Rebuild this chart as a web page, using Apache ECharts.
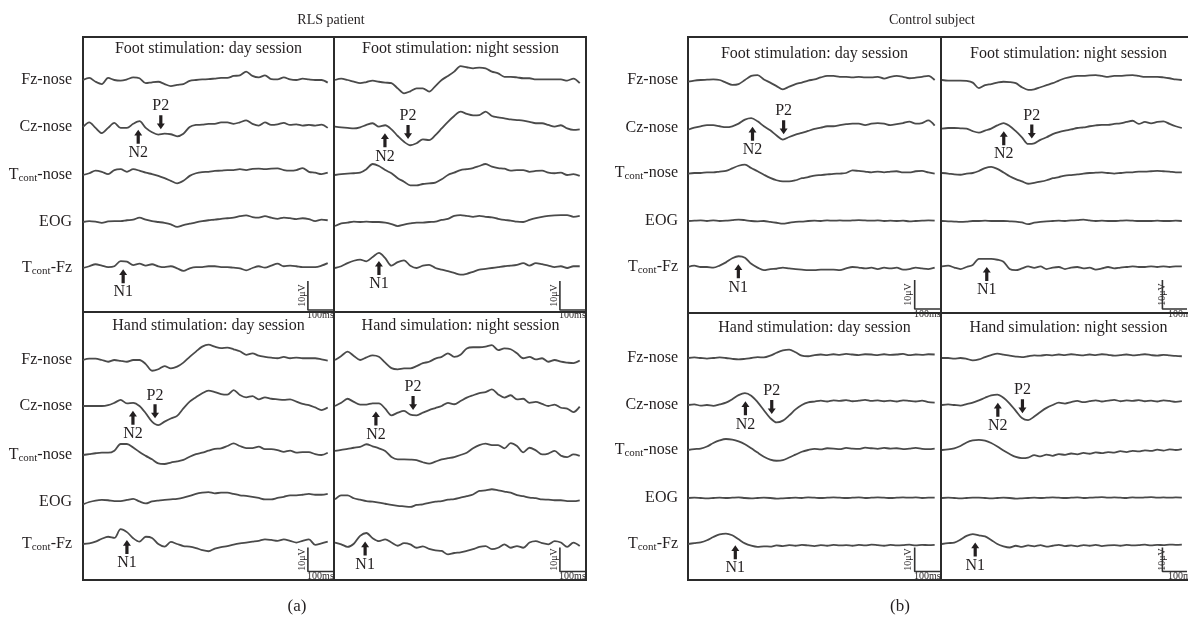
<!DOCTYPE html>
<html><head><meta charset="utf-8">
<script src="https://cdn.jsdelivr.net/npm/echarts@6/dist/echarts.min.js"></script>
<style>html,body{margin:0;padding:0;background:#fff}#c{width:1188px;height:620px}</style>
</head><body><div id="c"></div>
<script>
// ---------------- DATA ----------------
const timesMs = [0,25,50,75,100,125,150,175,200,225,250,275,300,325,350,375,400,425,450,475,500,525,550,575,600,625,650,675,700,725,750,775,800,825,850,875,900,925,950,975];
const channelNames = ['Fz-nose','Cz-nose','Tcont-nose','EOG','Tcont-Fz'];
const figureTitles = ['RLS patient','Control subject'];
const figureCaptions = ['(a)','(b)'];
const panelTitles = ['Foot stimulation: day session','Foot stimulation: night session','Hand stimulation: day session','Hand simulation: night session','Foot stimulation: day session','Foot stimulation: night session','Hand stimulation: day session','Hand simulation: night session'];

// traces in µV (up = positive on screen), rows: Fz-nose, Cz-nose, Tcont-nose, EOG, Tcont-Fz
const rlsFootDay = [
 [0,0.7,-0.6,-1.4,0.7,0,-0.2,0.2,0.9,0.6,-1.1,-0.8,-0.6,-1.4,-2.1,-1.7,-1.4,-0.3,0,0.2,0.3,0.5,0.7,0.7,1.4,1.6,2.9,1.4,0.9,1.6,0.3,0.2,0.9,0.2,0,0.5,0.2,0,0,-0.9],
 [0,1.6,-0.3,-2.1,-0.3,1.4,-0.3,-0.3,1.1,2.0,-0.3,-1.8,-2.6,-2.3,-2.5,-3.2,-2.3,0,0.7,0.8,1.1,1.1,1.6,1.6,1.1,1.6,2.3,1.1,0.5,1.6,0.7,0.9,1.4,0.7,0.9,0.5,0.7,0.5,0.8,-0.3],
 [0,0.6,1.5,1.1,0.3,1.7,2.0,1.1,2.0,1.5,0.8,0.3,-0.3,-1.1,-2.0,-2.9,-2.0,-0.3,0.6,1.0,1.1,1.4,1.5,1.7,1.7,2.0,1.7,2.1,2.2,2.0,2.2,2.3,1.7,1.5,1.7,2.4,1.1,0.8,0.3,0.8],
 [0,0.3,0.1,-0.3,0.2,0.3,0.3,0.6,0.8,1.5,0.8,0.3,0,-0.3,-0.8,-1.7,-1.1,-0.6,-0.1,0.3,0.6,0.8,1.1,1.3,1.5,2.0,2.3,1.7,1.5,2.0,1.5,1.1,1.5,1.3,1.0,1.3,1.0,0.3,0.8,0.6],
 [0,0.6,1.3,0.8,0.3,0.6,2.4,2.2,1.0,1.5,0.8,1.3,0.6,0.3,0.6,-0.1,-1.0,-0.1,0.3,0.3,0.6,0.6,0.3,0.3,0.1,-0.1,-0.8,0,0.6,0.1,0.8,1.5,0.6,0.8,0.6,0.3,0.3,0.3,0.8,1.7]
];
const rlsFootNight = [
 [0,0.5,0,-0.6,-1.1,-0.7,-0.2,-0.6,-0.9,-1.1,-2.9,-4.6,-3.9,-2.9,-2.9,-4.0,-2.1,0,1.4,2.9,4.8,4.4,4.0,4.3,4.0,2.9,2.3,1.1,1.1,0.9,0.6,0.6,0.2,0.2,0.2,0.2,0.2,-0.2,0.5,-1.1],
 [0.1,-0.1,-0.3,-0.5,-0.1,0.7,1.3,0.1,0.6,-0.8,-3.1,-5.1,-6.3,-5.6,-4.3,-4.5,-2.8,-0.5,1.8,3.8,5.3,4.5,4.0,4.1,5.3,3.8,3.3,3.0,2.6,2.4,2.2,1.8,1.3,1.3,0.7,0.1,0.6,-0.5,-1.0,-0.8],
 [0,0.3,0.5,0.6,0.8,2.0,3.8,3.1,1.7,0.6,-1.1,-2.3,-3.6,-3.6,-3.1,-2.9,-2.6,-1.5,0,0.8,1.7,2.0,2.4,3.1,3.8,2.9,2.4,2.2,1.5,1.7,1.7,1.1,1.4,1.5,0.8,0.6,0.8,0,0.3,-0.3],
 [-1.4,-0.5,-0.2,0.1,0,0.1,0,0,-0.2,-0.7,-1.4,-0.9,-0.5,-0.2,-0.2,0,0.1,0.7,1.1,2.1,2.4,2.1,1.8,2.1,1.8,1.6,1.1,0.7,0.5,0.1,0,0.7,1.3,1.8,2.1,2.3,2.4,2.4,1.8,2.1],
 [0,0.6,1.7,2.5,2.9,2.3,3.8,5.2,3.4,0.8,2.0,2.6,0.8,0,0.8,1.1,0,-0.6,-1.1,-1.7,-2.3,-2.0,-1.3,-0.6,-0.3,0,0.3,0.6,0.8,1.1,1.7,0.8,1.7,1.3,0.8,0.3,0.6,0,0.6,0.6]
];
const rlsHandDay = [
 [0,0.5,0.5,0,-0.6,0,-0.3,-0.6,0,0,-1.4,-3.7,-3.2,-2.1,-2.9,-2.3,-0.9,1.1,2.9,4.6,5.3,4.6,4.1,4.3,3.7,3.0,1.8,2.3,1.5,1.1,0.8,0.6,1.1,0.6,0.8,0.6,0.6,0.6,0.2,-0.2],
 [0,0,0,0,0.3,1.1,2.1,0.9,1.1,0,-2.5,-5.4,-6.6,-5.4,-4.3,-3.4,-0.8,1.5,3.0,4.4,5.3,4.8,4.1,3.9,5.5,3.8,3.0,3.4,2.3,3.0,2.5,2.3,2.1,2.3,1.5,0.7,0.3,-0.5,-1.4,-0.5],
 [0,0.3,0.6,0.8,0.8,1.5,3.8,3.8,2.6,1.0,-0.3,-1.5,-2.9,-3.1,-2.6,-2.2,-1.7,-0.6,0.3,0.8,1.5,2.1,2.3,3.1,4.0,3.1,2.4,2.4,2.9,2.0,2.0,1.7,1.1,1.5,0.8,1.0,1.0,0.3,0,0.8],
 [-0.8,0,0.5,0.7,0.6,0.3,0.3,0.7,1.1,0.2,-0.5,0.2,0.5,0.7,0.9,1.1,1.5,2.1,2.8,3.2,3.4,3.0,3.2,3.2,2.8,2.3,2.1,1.8,1.4,0.9,0.9,1.4,1.8,2.3,2.3,2.5,2.8,2.5,2.5,2.8],
 [0,0.2,0.8,1.8,2.5,2.1,5.1,4.1,2.0,0.8,2.5,2.1,0,-0.9,0.7,0,-0.7,-0.9,-1.4,-2.1,-2.5,-1.6,-1.1,-0.7,-0.2,0.2,0.5,0.8,1.1,1.6,1.4,1.1,1.6,1.1,0.5,1.1,1.6,-0.3,0.2,0.8]
];
const rlsHandNight = [
 [0,1.4,2.9,1.4,0,0.9,1.6,1.1,-0.9,-2.8,-3.2,-2.9,-2.9,-2.1,-1.1,-0.6,0.5,1.1,2.3,1.1,1.8,4.0,4.4,4.4,4.6,5.1,3.4,4.0,3.7,2.3,0.6,1.1,0.2,0.6,-0.6,0,-0.6,-0.9,-1.1,-0.2],
 [0,1.1,2.5,1.4,0.5,0.5,0.9,0.9,-0.9,-3.2,-2.3,-1.7,-3.0,-3.2,-2.3,-1.4,-0.7,0,1.1,0.6,1.7,2.9,3.7,4.4,4.8,5.7,4.0,2.9,3.7,2.3,2.5,1.1,1.4,0.7,0,0.5,-0.6,-0.9,-2.1,-0.2],
 [1.4,1.8,2.1,2.5,2.8,3.7,3.0,2.3,1.4,-0.7,-1.5,-1.5,-1.6,-1.8,-2.5,-3.0,-2.3,-1.5,-1.1,-0.7,0,0.8,2.3,3.4,3.9,3.4,3.4,2.3,4.1,3.1,0.9,2.5,1.6,0.2,0.5,1.4,-0.2,-0.7,0.2,-0.3],
 [0.9,2.3,2.3,1.3,0.8,0.3,0.1,-0.2,-0.6,-1.0,-1.3,-1.5,-1.7,-1.0,-0.8,-0.3,0.1,0.3,0.8,1.0,1.5,2.0,2.6,3.8,4.0,4.4,4.0,3.6,3.2,2.4,2.0,1.5,1.3,0.9,0.8,0.6,0.6,0.3,0.3,0.6],
 [0.5,-0.1,-1.0,0.1,2.8,3.8,2.0,1.0,1.6,0.5,-0.6,0.3,-0.1,-1.3,-0.8,-1.7,-2.2,-2.4,-3.6,-3.1,-2.9,-2.4,-1.8,-1.0,-0.7,-1.8,-1.3,-0.1,-1.3,-0.7,-1.3,0.5,1.0,0.3,-0.1,1.0,0.5,-1.0,0.5,-0.7]
];
const ctrlFootDay = [
 [-0.6,-0.2,0,0.1,0.2,0,-0.9,-1.7,-1.4,0,1.4,1.7,0.2,-0.9,-2.1,-3.2,-2.3,-1.4,-0.9,-0.2,0.2,0.9,1.4,1.4,1.1,1.1,0.9,1.1,0.9,0.9,1.1,0.5,1.1,1.4,1.1,0.6,0.8,1.1,1.4,0],
 [-0.6,0.1,0.6,1.0,1.0,0.6,0.3,0.6,1.5,2.9,3.4,2.3,0.6,-0.8,-2.6,-4.0,-3.1,-2.3,-1.7,-1.0,-0.3,0.1,0.6,0.6,1.0,1.3,1.5,1.5,1.0,1.5,1.7,1.5,1.0,1.3,1.7,2.2,1.5,1.7,2.6,0.8],
 [-0.2,0,0,0.2,0.2,0.5,0.7,1.6,2.5,2.9,1.7,0.6,-0.6,-1.7,-2.5,-2.9,-2.9,-2.5,-1.8,-1.4,-0.9,-0.7,-0.5,-0.3,-0.2,0,0.9,0.7,0.5,0.2,0.5,0.2,0.5,0.6,0.2,0.2,0.6,0.7,0.2,-0.2],
 [0,0.1,0.2,0,0.2,0,0.1,0.3,0.5,0.3,0,-0.1,0,-0.3,-0.6,-0.9,-0.6,-0.3,-0.2,0,0.1,0,0.2,0.1,0.2,0.1,0.2,0.3,0.2,0.1,0.2,0,0.1,0,0.1,-0.1,0,0.1,0.2,0.1],
 [0,0.5,0,0,-0.2,0.5,1.6,3.0,3.7,3.2,1.1,-0.2,-1.1,-0.7,-0.6,-0.2,-0.5,-0.7,-0.9,-1.1,-1.1,-0.9,-0.9,-0.9,-1.1,-0.5,0,-0.2,-0.5,-0.2,-0.7,-0.2,-0.5,-0.2,-0.9,-0.7,-0.2,-0.5,-0.7,-0.2]
];
const ctrlFootNight = [
 [0,-0.2,-0.2,-0.2,-0.3,-0.9,-2.8,-1.8,-1.4,-0.9,-0.6,-0.7,-1.1,-2.5,-3.4,-3.2,-2.5,-1.8,-1.1,-0.2,0.6,1.1,1.4,1.4,1.6,1.7,1.4,1.1,1.4,1.4,1.6,1.7,1.4,1.1,1.1,1.1,0.9,0.6,0.2,0],
 [-0.2,0,0,-0.1,-0.2,-1.1,-1.6,-0.9,-0.2,0.9,1.7,0.7,-1.1,-3.2,-5.5,-5.3,-4.1,-3.2,-2.1,-1.4,-0.9,-0.5,0,0.2,0.6,0.9,1.1,1.1,1.4,1.6,2.1,2.5,1.4,2.1,1.6,2.1,2.3,1.4,0.6,0],
 [0,-0.2,-0.5,-0.6,-0.2,0,0.7,1.7,2.1,1.4,0.2,-1.1,-2.1,-2.9,-3.7,-3.4,-3.0,-2.5,-1.8,-1.4,-0.9,-0.7,-0.5,-0.2,0,0.1,0.2,0,-0.2,0,0.2,0.2,0.5,0.5,0.6,0.7,0.6,0.5,0.2,0.2],
 [0,-0.1,-0.2,-0.3,-0.2,0,0,0.1,0,0,0,-0.1,-0.2,-0.5,-1.1,-0.6,-0.3,-0.1,0,0.1,0,0.2,0.3,0.5,0.2,0,0.1,0,0,0.1,0.2,0.1,0,0,0,0.1,0,0,0.1,0],
 [0.2,0.5,-0.2,-0.7,0,0.7,2.8,2.8,2.8,2.5,1.8,-0.7,-1.1,-0.5,0.2,-0.3,0.2,-0.7,-0.2,0,-0.7,-0.2,0,-0.5,-0.2,-0.9,-0.5,0,-0.5,-0.2,0,0.2,0,0,0.2,0,0.2,0,0.2,0.2]
];
const ctrlHandDay = [
 [0,0.2,0,-0.2,0,0.2,0,-0.3,-0.5,-0.3,0,0.3,0.2,0.8,1.8,2.6,2.9,2.0,0.8,0.6,1.0,1.2,1.0,1.3,1.1,1.4,1.2,1.0,1.3,1.2,1.0,1.3,1.1,1.2,1.4,1.0,1.2,1.1,1.3,1.2],
 [0,0.2,-0.2,0,-0.3,0.2,0.8,2.0,3.4,4.1,3.2,1.0,-1.8,-4.5,-6.0,-5.4,-3.6,-1.5,0,0.9,1.2,1.5,1.2,1.6,1.4,1.7,1.3,1.5,1.8,1.4,1.6,1.3,1.5,1.2,1.6,1.4,1.2,1.5,1.0,0.8],
 [0,0.3,0.5,1.2,2.4,3.3,3.8,3.6,3.0,2.0,0.6,-0.9,-2.3,-3.3,-3.7,-3.5,-2.6,-1.6,-0.6,0,0.4,0.2,0.6,0.5,0.3,0.7,0.5,0.4,0.8,0.6,0.4,0.7,0.5,0.6,0.3,0.5,0.7,0.4,0.3,0.5],
 [0,0.1,0,-0.1,0,0.1,0,0.1,0.2,0,-0.1,0,0.1,0,-0.2,-0.1,0,0.1,0,0.2,0.1,0,0.1,0.2,0.1,0,0.1,0.2,0,0.1,0.2,0.1,0,0.1,0.2,0.1,0.2,0,0.1,0.1],
 [0,0.3,0.6,1.3,2.4,3.3,3.6,3.0,1.6,0.2,-0.6,-1.0,-0.8,-0.9,-0.5,-0.7,-0.4,-0.6,-0.3,-0.5,-0.7,-0.4,-0.6,-0.3,-0.5,-0.4,-0.6,-0.3,-0.5,-0.2,-0.4,-0.6,-0.3,-0.5,-0.4,-0.2,-0.5,-0.3,-0.4,-0.3]
];
const ctrlHandNight = [
 [0,0,-0.2,0,-0.3,-0.8,-0.5,0.3,1.0,1.5,1.2,0.8,0.5,0.3,0.6,0.9,0.8,1.1,0.9,1.2,1.0,1.3,1.1,0.9,1.2,1.0,1.3,1.1,0.8,1.0,1.2,0.9,1.1,1.3,1.0,0.8,1.1,0.9,0.7,0.6],
 [0,0.2,0,-0.2,0.3,0.8,1.6,2.5,3.3,3.6,2.5,0.5,-2.0,-4.5,-5.2,-4.0,-2.4,-1.0,0,0.8,0.5,1.0,1.4,1.0,1.3,1.6,1.2,1.5,1.8,1.3,1.6,1.4,1.7,1.3,1.5,1.2,1.6,1.4,1.1,1.3],
 [0,0.2,0.6,1.4,2.6,3.3,3.5,3.2,2.4,1.2,-0.2,-1.4,-2.4,-2.8,-2.6,-1.8,-2.2,-1.6,-2.0,-1.4,-1.7,-1.2,-1.5,-1.0,-1.3,-0.8,-1.1,-0.7,-0.9,-0.4,-0.7,-0.3,-0.5,-0.1,-0.3,0.1,-0.2,0.2,0,0.3],
 [0,0.1,0,-0.1,0,0.1,0.1,0,-0.1,0,0.1,0,-0.2,-0.1,0,0.1,0,0.1,0.2,0.1,0,0.1,0.2,0,0.1,0.2,0.3,0.1,0.2,0.1,0,0.2,0.1,0.2,0.3,0.1,0.2,0.1,0.2,0.1],
 [0,0.3,0.5,1.5,2.8,3.4,3.0,2.6,1.4,0,-0.8,-1.2,-0.6,-1.0,-0.5,-0.8,-0.4,-0.9,-0.6,-0.3,-0.7,-0.5,-0.8,-0.4,-0.6,-0.3,-0.7,-0.5,-0.4,-0.6,-0.3,-0.5,-0.4,-0.2,-0.5,-0.3,-0.4,-0.2,-0.3,-0.2]
];
// component latencies (ms) per panel, same order as panelTitles
const n1Ms = [160,175,175,120,199,182,187,135];
const n2Ms = [220,199,199,163,255,251,227,227];
const p2Ms = [310,291,287,311,378,365,331,327];
// calibration bar: 100 ms by 10 µV
const scaleBarMs = [896,996];
const scaleBarLabels = ['10\u03bcV','100ms'];

// ---------------- LAYOUT ----------------
const panelData = [rlsFootDay,rlsFootNight,rlsHandDay,rlsHandNight,ctrlFootDay,ctrlFootNight,ctrlHandDay,ctrlHandNight];
const FONT = '"Liberation Serif","DejaVu Serif",serif';
const INK = '#231f20';
const TRACE = '#4a4a4a';
const PX_PER_UV = 2.9, Y_HALF = 8, GRID_H = 2*Y_HALF*PX_PER_UV;
const figLeft = [83,688], figDivX = [334,941], figDivY = [312,313], boxTop = 37, boxBottom = 580;
const panelWidth = [251,253];
const rowBaselines = [[[80,127,175,222,268],[360,406,455,502,544]],[[80,128,173,221,267],[358,405,450,498,544]]];
const barRangeUv = [[-4.5,-14.5],[-1.2,-9.5]];
const labelRightX = [72,678];
const figTitleX = [331,932], captionX = [297,900];
const panelTitleY = [[49,326],[54,328]];

function valueAt(vals, t){
  for(let i=0;i<timesMs.length-1;i++){
    if(t>=timesMs[i] && t<=timesMs[i+1]){
      const f=(t-timesMs[i])/(timesMs[i+1]-timesMs[i]);
      return vals[i]+(vals[i+1]-vals[i])*f;
    }
  }
  return vals[vals.length-1];
}
const UP_ARROW = 'path://M5,0 L10,6.5 L7,6.5 L7,16 L3,16 L3,6.5 L0,6.5 Z';
const DOWN_ARROW = 'path://M3,0 L7,0 L7,9.5 L10,9.5 L5,16 L0,9.5 L3,9.5 Z';
const markerLabel = {show:true, fontFamily:FONT, fontSize:16, color:INK, distance:1};
const markerItem = {color:INK, opacity:1};

const grids=[], xAxes=[], yAxes=[], series=[], graphics=[];
let gi=0;
panelData.forEach((traces,p)=>{
  const fig = p<4?0:1, half = (p%4)<2?0:1, col = p%2;
  const left = col===0 ? figLeft[fig] : figDivX[fig]+1;
  const w = panelWidth[fig];
  const idx=[];
  traces.forEach((vals,c)=>{
    const base = rowBaselines[fig][half][c];
    grids.push({left:left, top:base-GRID_H/2, width:w, height:GRID_H, containLabel:false});
    xAxes.push({type:'value', gridIndex:gi, min:0, max:1000, show:false});
    yAxes.push({type:'value', gridIndex:gi, min:-Y_HALF, max:Y_HALF, show:false});
    series.push({type:'line', xAxisIndex:gi, yAxisIndex:gi, data:timesMs.map((t,i)=>[t,vals[i]]),
      showSymbol:false, symbol:'none', smooth:0.3, clip:false, silent:true, animation:false,
      lineStyle:{color:TRACE, width:1.8}});
    idx.push(gi); gi++;
  });
  const cz = idx[1], tfz = idx[4];
  series.push({type:'scatter', xAxisIndex:cz, yAxisIndex:cz, clip:false, silent:true, animation:false, z:5,
    data:[[n2Ms[p], valueAt(traces[1], n2Ms[p])]], symbol:UP_ARROW, symbolSize:[8,14], symbolOffset:[0,15],
    itemStyle:markerItem, label:Object.assign({position:'bottom', formatter:'N2'}, markerLabel)});
  series.push({type:'scatter', xAxisIndex:cz, yAxisIndex:cz, clip:false, silent:true, animation:false, z:5,
    data:[[p2Ms[p], valueAt(traces[1], p2Ms[p])]], symbol:DOWN_ARROW, symbolSize:[8,14], symbolOffset:[0,-12],
    itemStyle:markerItem, label:Object.assign({position:'top', formatter:'P2'}, markerLabel)});
  series.push({type:'scatter', xAxisIndex:tfz, yAxisIndex:tfz, clip:false, silent:true, animation:false, z:5,
    data:[[n1Ms[p], valueAt(traces[4], n1Ms[p])]], symbol:UP_ARROW, symbolSize:[8,14], symbolOffset:[0,15],
    itemStyle:markerItem, label:Object.assign({position:'bottom', formatter:'N1'}, markerLabel)});
  // calibration bar
  const br = barRangeUv[half];
  series.push({type:'line', xAxisIndex:tfz, yAxisIndex:tfz, clip:false, silent:true, animation:false, showSymbol:false, symbol:'none',
    data:[[scaleBarMs[0],br[0]],[scaleBarMs[0],br[1]],[scaleBarMs[1],br[1]]], lineStyle:{color:'#333', width:1.6}});
  const baseT = rowBaselines[fig][half][4];
  const bx = left + scaleBarMs[0]*w/1000, bx2 = left + scaleBarMs[1]*w/1000;
  const byTop = baseT - br[0]*PX_PER_UV, byBot = baseT - br[1]*PX_PER_UV;
  graphics.push({type:'text', x:bx-6, y:(byTop+byBot)/2, rotation:Math.PI/2, silent:true,
    style:{text:scaleBarLabels[0], fontFamily:FONT, fontSize:10, fill:INK, align:'center', verticalAlign:'middle'}});
  graphics.push({type:'text', x:(bx+bx2)/2, y:byBot+5, silent:true,
    style:{text:scaleBarLabels[1], fontFamily:FONT, fontSize:10, fill:INK, align:'center', verticalAlign:'middle'}});
  // panel title
  graphics.push({type:'text', x:left+w/2, y:panelTitleY[fig][half], silent:true,
    style:{text:panelTitles[p], fontFamily:FONT, fontSize:16, fill:INK, align:'center', verticalAlign:'middle'}});
});

const rich = {
  m:{fontFamily:FONT, fontSize:16, fill:INK, lineHeight:18},
  s:{fontFamily:FONT, fontSize:11, fill:INK, lineHeight:11, verticalAlign:'bottom'}
};
[0,1].forEach(fig=>{
  [0,1].forEach(half=>{
    channelNames.forEach((name,c)=>{
      graphics.push({type:'text', x:labelRightX[fig], y:rowBaselines[fig][half][c], silent:true,
        style:{text: name.startsWith('Tcont') ? '{m|T}{s|cont}{m|'+name.slice(5)+'}' : '{m|'+name+'}', rich:rich, align:'right', verticalAlign:'middle'}});
    });
  });
  graphics.push({type:'text', x:figTitleX[fig], y:20, silent:true,
    style:{text:figureTitles[fig], fontFamily:FONT, fontSize:14, fill:INK, align:'center', verticalAlign:'middle'}});
  graphics.push({type:'text', x:captionX[fig], y:607, silent:true,
    style:{text:figureCaptions[fig], fontFamily:FONT, fontSize:17, fill:INK, align:'center', verticalAlign:'middle'}});
  const rw = fig===0 ? 586-figLeft[0] : 1195-figLeft[1];
  graphics.push({type:'rect', silent:true, shape:{x:figLeft[fig], y:boxTop, width:rw, height:boxBottom-boxTop},
    style:{fill:'none', stroke:'#2b2b2b', lineWidth:2}});
  graphics.push({type:'line', silent:true, shape:{x1:figDivX[fig], y1:boxTop, x2:figDivX[fig], y2:boxBottom},
    style:{stroke:'#2b2b2b', lineWidth:2}});
  graphics.push({type:'line', silent:true, shape:{x1:figLeft[fig], y1:figDivY[fig], x2:figLeft[fig]+rw, y2:figDivY[fig]},
    style:{stroke:'#2b2b2b', lineWidth:2}});
});

const chart = echarts.init(document.getElementById('c'), null, {renderer:'canvas'});
chart.setOption({
  animation:false,
  backgroundColor:'#ffffff',
  grid:grids, xAxis:xAxes, yAxis:yAxes, series:series, graphic:graphics
});
</script></body></html>
